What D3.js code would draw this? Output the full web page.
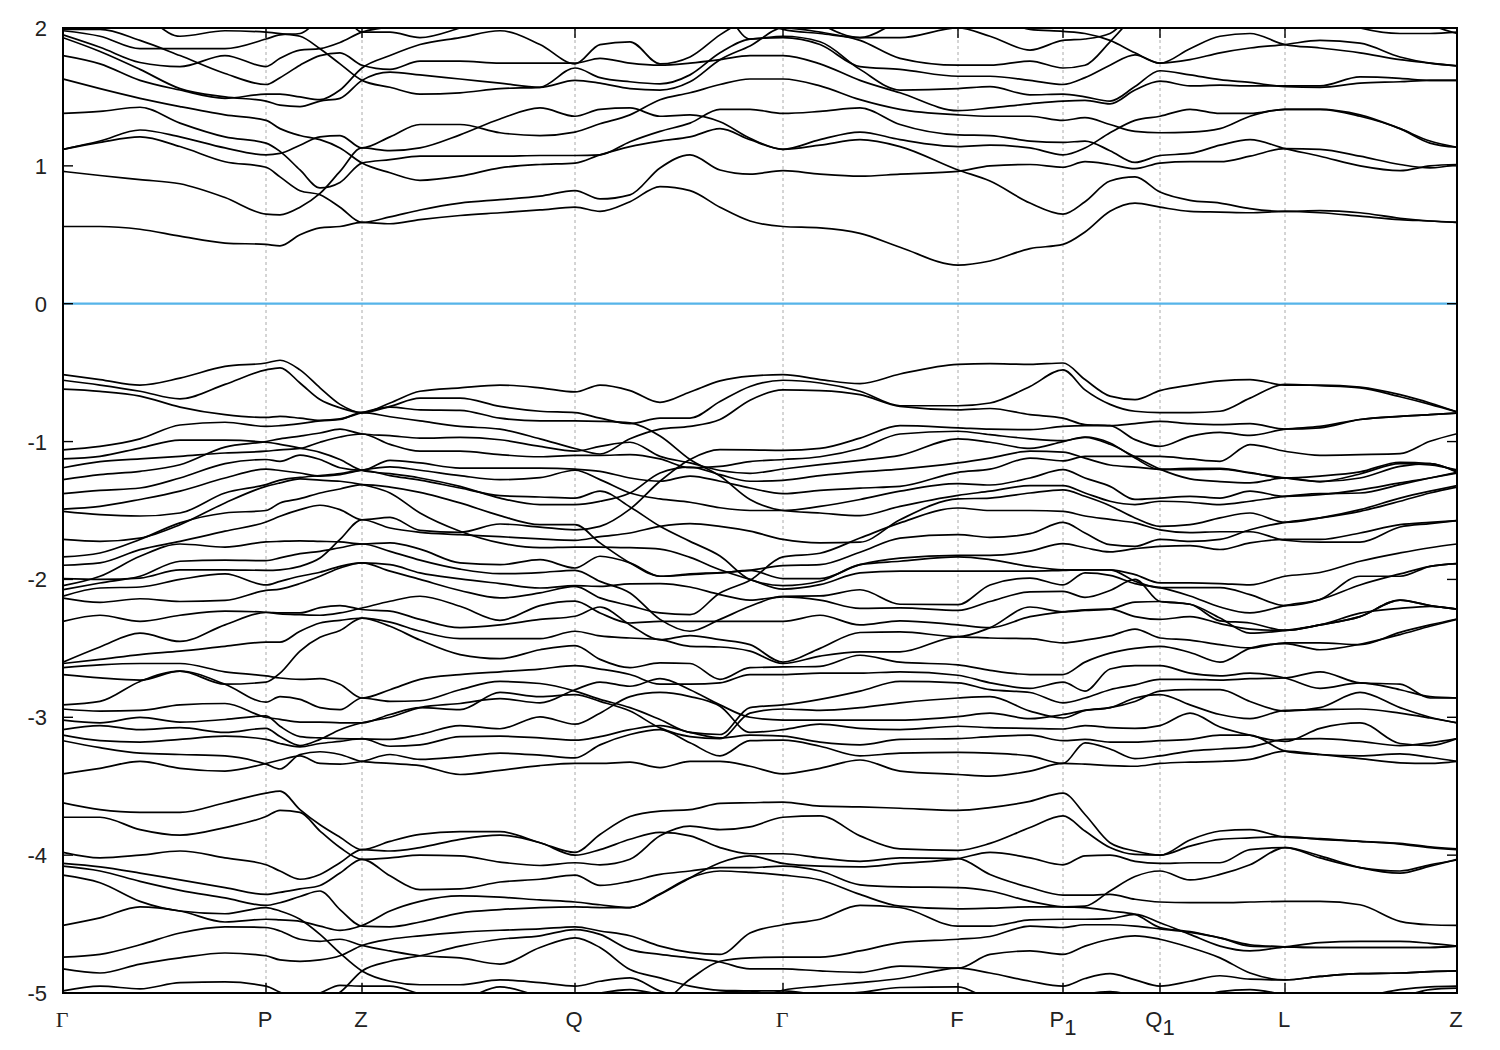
<!DOCTYPE html>
<html><head><meta charset="utf-8">
<script src="https://cdn.jsdelivr.net/npm/d3@7"></script>
<style>html,body{margin:0;padding:0;background:#fff}svg{display:block}text{font-family:"Liberation Sans",Arial,sans-serif;fill:#222}</style>
</head><body><svg id="c" width="1500" height="1050"></svg>
<script>
const kPath=[0,37,77,117,162,203, 217,237,257,277,299, 327,357,397,437,477,512, 537,567,597,627,657,687,720, 757,797,837,895, 927,967,1000, 1022,1047,1072,1097, 1127,1157,1187,1222, 1257,1297,1337,1367,1394];
const kTickPos=[0,203,299,512,720,895,1000,1097,1222,1394];
const kTickLabels=["Γ","P","Z","Q","Γ","F","P1","Q1","L","Z"];
const energyTicks=[2,1,0,-1,-2,-3,-4,-5];
const upperBands=[
[.56,.56,.54,.49,.44,.43,.42,.50,.55,.56,.59,.58,.61,.64,.66,.68,.70,.67,.74,.85,.82,.70,.60,.56,.55,.51,.41,.28,.31,.40,.43,.52,.67,.73,.70,.67,.665,.66,.67,.66,.635,.61,.60,.59],
[.96,.93,.90,.87,.77,.65,.645,.70,.80,.96,1.13,1.11,1.13,1.225,1.34,1.42,1.36,1.41,1.42,1.36,1.37,1.32,1.20,1.12,1.15,1.19,1.14,.97,.89,.73,.65,.74,.89,.92,.81,.75,.73,.69,.67,.675,.66,.62,.60,.59],
[1.12,1.17,1.21,1.14,1.03,.99,.92,.82,.79,.70,.59,.63,.68,.73,.755,.78,.82,.76,.79,.985,1.08,.97,.94,.965,.94,.925,.94,.96,1.0,1.01,.99,1.03,1.01,.98,1.02,1.03,1.03,1.07,1.125,1.12,1.07,1.01,.985,1.01],
[1.12,1.18,1.26,1.21,1.13,1.08,1.09,1.15,1.21,1.22,1.13,1.21,1.30,1.30,1.24,1.22,1.245,1.305,1.37,1.48,1.53,1.59,1.63,1.63,1.58,1.48,1.41,1.37,1.36,1.36,1.33,1.35,1.30,1.25,1.24,1.245,1.27,1.36,1.41,1.41,1.36,1.27,1.165,1.135],
[1.63,1.56,1.49,1.43,1.37,1.33,1.27,1.22,1.19,1.13,1.02,.95,.895,.925,.985,1.01,1.02,1.08,1.14,1.18,1.21,1.27,1.19,1.12,1.19,1.245,1.19,1.14,1.15,1.13,1.08,1.13,1.24,1.33,1.36,1.41,1.38,1.38,1.41,1.41,1.37,1.27,1.18,1.135],
[1.38,1.395,1.425,1.31,1.21,1.165,1.105,.97,.84,.88,1.02,1.045,1.07,1.07,1.07,1.075,1.075,1.08,1.175,1.25,1.31,1.41,1.41,1.38,1.395,1.42,1.30,1.225,1.22,1.18,1.17,1.18,1.11,1.025,1.075,1.09,1.15,1.19,1.125,1.07,1.0,.965,1.0,1.01],
[1.80,1.74,1.62,1.55,1.49,1.52,1.52,1.50,1.48,1.55,1.71,1.80,1.88,1.93,1.98,1.88,1.74,1.88,1.90,1.74,1.79,1.95,2.08,2.2,2.03,1.93,1.93,2.0,1.94,1.84,1.91,1.92,1.96,2.12,2.2,2.2,2.2,2.2,2.2,2.1,2.0,1.96,1.96,1.97],
[1.93,1.83,1.70,1.56,1.50,1.47,1.44,1.43,1.47,1.49,1.62,1.68,1.66,1.63,1.60,1.57,1.62,1.60,1.56,1.55,1.61,1.77,1.87,2.0,1.97,1.91,1.78,1.73,1.73,1.76,1.71,1.73,1.90,2.1,2.3,2.3,2.3,2.3,2.3,2.3,2.3,2.1,2.02,1.96],
[1.95,1.86,1.75,1.72,1.80,1.72,1.78,1.84,1.85,1.895,1.97,2.01,2.05,2.2,2.2,2.2,2.2,2.2,2.2,2.2,2.2,2.15,1.92,1.94,1.90,1.70,1.55,1.56,1.575,1.515,1.52,1.50,1.47,1.575,1.69,1.66,1.625,1.605,1.575,1.57,1.60,1.61,1.62,1.62],
[1.98,1.94,1.85,1.85,1.85,1.92,1.95,1.96,2.06,2.1,1.97,1.97,1.93,2.0,2.1,2.2,2.3,2.3,2.3,2.3,2.3,2.2,2.1,1.99,1.96,1.93,2.05,2.15,2.1,1.99,1.975,1.96,1.91,1.82,1.745,1.85,1.94,1.96,1.88,1.855,1.82,1.77,1.745,1.725],
[1.99,1.99,1.91,1.80,1.67,1.59,1.64,1.73,1.80,1.82,1.73,1.70,1.76,1.76,1.745,1.745,1.745,1.78,1.745,1.73,1.745,1.77,1.80,1.80,1.74,1.62,1.53,1.40,1.42,1.45,1.47,1.475,1.45,1.55,1.615,1.58,1.585,1.58,1.58,1.58,1.645,1.635,1.62,1.62],
[2.15,2.15,2.1,1.94,1.98,1.97,1.96,1.94,1.85,1.74,1.62,1.57,1.52,1.53,1.56,1.57,1.71,1.64,1.61,1.595,1.66,1.82,1.92,1.93,1.88,1.72,1.70,1.65,1.65,1.62,1.59,1.64,1.73,1.805,1.745,1.77,1.82,1.855,1.88,1.91,1.89,1.79,1.745,1.725]
];
const valenceBands=[
[-.515,-.55,-.59,-.54,-.455,-.43,-.41,-.48,-.61,-.73,-.79,-.72,-.635,-.61,-.59,-.61,-.64,-.59,-.63,-.715,-.64,-.56,-.525,-.515,-.55,-.58,-.51,-.44,-.435,-.44,-.43,-.55,-.67,-.695,-.63,-.59,-.56,-.55,-.59,-.59,-.605,-.66,-.72,-.785],
[-.555,-.59,-.635,-.69,-.585,-.48,-.465,-.575,-.695,-.755,-.79,-.745,-.685,-.685,-.745,-.78,-.79,-.83,-.87,-.83,-.83,-.71,-.60,-.555,-.575,-.635,-.74,-.74,-.72,-.60,-.48,-.625,-.73,-.78,-.79,-.79,-.78,-.685,-.585,-.595,-.61,-.675,-.73,-.785],
[-.62,-.636,-.67,-.75,-.805,-.825,-.817,-.83,-.846,-.836,-.79,-.75,-.77,-.773,-.83,-.85,-.85,-.853,-.865,-.96,-1.13,-1.25,-1.42,-1.5,-1.518,-1.537,-1.47,-1.39,-1.36,-1.32,-1.32,-1.373,-1.433,-1.457,-1.433,-1.44,-1.457,-1.433,-1.397,-1.378,-1.373,-1.312,-1.264,-1.223],
[-1.06,-1.035,-.98,-.88,-.86,-.89,-.885,-.87,-.85,-.84,-.79,-.82,-.85,-.89,-.91,-.98,-1.05,-1.09,-.98,-.91,-.89,-.84,-.70,-.625,-.63,-.66,-.745,-.77,-.76,-.805,-.83,-.877,-.885,-.986,-1.035,-.962,-.933,-.955,-.91,-.89,-.84,-.817,-.805,-.793],
[-1.125,-1.107,-1.047,-.99,-.99,-1.005,-1.02,-1.047,-1.078,-1.13,-1.21,-1.233,-1.264,-1.325,-1.41,-1.457,-1.457,-1.433,-1.373,-1.228,-1.185,-1.24,-1.288,-1.281,-1.247,-1.22,-1.2,-1.155,-1.12,-1.07,-1.076,-1.12,-1.17,-1.185,-1.2,-1.195,-1.195,-1.225,-1.264,-1.25,-1.22,-1.15,-1.16,-1.216],
[-1.19,-1.145,-1.126,-1.107,-1.083,-1.07,-1.06,-1.05,-1.005,-.967,-.945,-1.02,-1.07,-1.07,-1.095,-1.11,-1.10,-1.10,-1.095,-1.126,-1.19,-1.18,-1.145,-1.13,-1.11,-1.05,-.945,-.925,-.95,-.98,-.993,-.97,-1.02,-1.11,-1.2,-1.27,-1.29,-1.3,-1.264,-1.29,-1.235,-1.16,-1.17,-1.206],
[-1.276,-1.24,-1.216,-1.168,-1.04,-1.0,-.98,-.96,-.938,-.91,-.945,-.957,-.975,-.97,-.987,-1.035,-1.07,-1.035,-1.005,-1.107,-1.155,-1.21,-1.23,-1.199,-1.167,-1.136,-1.10,-.98,-1.005,-1.05,-1.0,-.967,-1.01,-1.12,-1.204,-1.204,-1.2,-1.228,-1.264,-1.29,-1.264,-1.18,-1.16,-1.223],
[-1.378,-1.354,-1.337,-1.264,-1.16,-1.13,-1.143,-1.098,-1.13,-1.19,-1.208,-1.136,-1.155,-1.192,-1.192,-1.192,-1.2,-1.216,-1.264,-1.288,-1.25,-1.288,-1.337,-1.378,-1.354,-1.337,-1.325,-1.223,-1.2,-1.12,-1.14,-1.107,-1.107,-1.107,-1.107,-1.126,-1.143,-1.022,-1.07,-1.10,-1.095,-1.088,-.998,-.943],
[-1.49,-1.47,-1.42,-1.36,-1.264,-1.2,-1.21,-1.228,-1.25,-1.24,-1.208,-1.184,-1.208,-1.247,-1.276,-1.262,-1.208,-1.276,-1.373,-1.416,-1.44,-1.48,-1.5,-1.5,-1.47,-1.42,-1.36,-1.305,-1.315,-1.264,-1.204,-1.264,-1.325,-1.42,-1.41,-1.397,-1.41,-1.36,-1.397,-1.385,-1.35,-1.30,-1.264,-1.228],
[-1.506,-1.53,-1.54,-1.518,-1.373,-1.312,-1.28,-1.26,-1.247,-1.233,-1.208,-1.247,-1.28,-1.337,-1.392,-1.402,-1.41,-1.36,-1.474,-1.615,-1.724,-1.83,-2.0,-2.045,-2.013,-1.893,-1.868,-1.837,-1.856,-1.905,-1.93,-1.93,-1.93,-1.965,-2.025,-2.025,-2.03,-2.04,-1.977,-1.95,-1.868,-1.808,-1.77,-1.743],
[-1.71,-1.724,-1.7,-1.603,-1.445,-1.325,-1.3,-1.27,-1.28,-1.288,-1.312,-1.373,-1.518,-1.65,-1.735,-1.77,-1.765,-1.765,-1.77,-1.78,-1.84,-1.93,-2.0,-2.07,-2.038,-1.953,-1.94,-1.94,-1.94,-1.94,-1.934,-1.93,-1.93,-2.013,-2.06,-2.06,-2.06,-2.11,-2.19,-2.146,-1.977,-1.977,-1.905,-1.885],
[-1.837,-1.808,-1.71,-1.59,-1.518,-1.5,-1.445,-1.414,-1.373,-1.344,-1.312,-1.33,-1.368,-1.445,-1.537,-1.603,-1.603,-1.735,-1.88,-1.977,-1.965,-1.953,-1.935,-1.994,-1.994,-1.893,-1.845,-1.825,-1.825,-1.795,-1.74,-1.77,-1.8,-1.777,-1.76,-1.755,-1.783,-1.735,-1.71,-1.71,-1.663,-1.603,-1.586,-1.574],
[-1.897,-1.88,-1.784,-1.724,-1.65,-1.583,-1.542,-1.494,-1.462,-1.494,-1.567,-1.55,-1.644,-1.658,-1.598,-1.62,-1.64,-1.615,-1.49,-1.288,-1.13,-1.059,-1.06,-1.064,-1.05,-.975,-.885,-.90,-.91,-.914,-.89,-.885,-.885,-.87,-.853,-.87,-.877,-.87,-.91,-.90,-.84,-.817,-.805,-.793],
[-1.994,-2.0,-1.99,-1.93,-1.93,-1.934,-1.93,-1.905,-1.845,-1.71,-1.567,-1.627,-1.658,-1.675,-1.69,-1.706,-1.716,-1.69,-1.663,-1.615,-1.595,-1.615,-1.65,-1.71,-1.735,-1.73,-1.567,-1.416,-1.41,-1.373,-1.35,-1.397,-1.465,-1.554,-1.615,-1.603,-1.554,-1.518,-1.586,-1.554,-1.494,-1.41,-1.36,-1.32],
[-2.045,-1.977,-1.832,-1.743,-1.765,-1.728,-1.724,-1.72,-1.724,-1.728,-1.743,-1.735,-1.78,-1.88,-1.893,-1.857,-1.917,-1.832,-1.88,-1.977,-1.96,-1.95,-1.934,-1.9,-1.893,-1.803,-1.70,-1.675,-1.695,-1.668,-1.586,-1.663,-1.748,-1.76,-1.71,-1.724,-1.71,-1.64,-1.586,-1.554,-1.506,-1.433,-1.373,-1.33],
[-2.075,-2.026,-1.977,-1.868,-1.86,-1.864,-1.844,-1.813,-1.796,-1.77,-1.743,-1.796,-1.86,-1.925,-1.958,-1.95,-1.934,-2.014,-2.098,-2.29,-2.376,-2.29,-2.195,-2.122,-2.12,-2.075,-2.18,-2.183,-2.04,-1.99,-2.04,-1.953,-1.97,-2.03,-2.06,-2.12,-2.2,-2.243,-2.19,-2.146,-2.04,-1.96,-1.905,-1.885],
[-2.122,-2.062,-2.055,-2.0,-1.96,-2.04,-2.014,-1.977,-1.948,-1.905,-1.88,-1.94,-2.0,-2.08,-2.134,-2.098,-2.05,-2.134,-2.19,-2.243,-2.255,-2.098,-2.006,-1.837,-1.81,-1.7,-1.59,-1.482,-1.5,-1.5,-1.506,-1.54,-1.565,-1.59,-1.64,-1.66,-1.654,-1.654,-1.716,-1.73,-1.73,-1.62,-1.595,-1.574],
[-2.135,-2.166,-2.14,-2.16,-2.152,-2.08,-2.07,-2.03,-1.977,-1.917,-1.88,-1.893,-1.953,-1.996,-2.03,-2.062,-2.045,-2.05,-2.032,-2.03,-2.055,-2.11,-2.15,-2.127,-2.15,-2.21,-2.207,-2.225,-2.16,-2.09,-2.087,-2.13,-2.08,-2.0,-2.16,-2.18,-2.28,-2.39,-2.37,-2.33,-2.245,-2.21,-2.195,-2.215],
[-2.304,-2.26,-2.304,-2.26,-2.23,-2.238,-2.25,-2.256,-2.26,-2.243,-2.207,-2.158,-2.122,-2.195,-2.297,-2.19,-2.158,-2.243,-2.316,-2.304,-2.304,-2.304,-2.304,-2.304,-2.26,-2.33,-2.3,-2.33,-2.35,-2.27,-2.235,-2.22,-2.215,-2.27,-2.29,-2.27,-2.32,-2.36,-2.37,-2.33,-2.27,-2.15,-2.19,-2.215],
[-2.60,-2.49,-2.39,-2.45,-2.33,-2.24,-2.243,-2.243,-2.205,-2.19,-2.218,-2.23,-2.29,-2.35,-2.33,-2.29,-2.267,-2.2,-2.33,-2.437,-2.407,-2.437,-2.473,-2.6,-2.5,-2.385,-2.38,-2.415,-2.35,-2.2,-2.235,-2.225,-2.215,-2.165,-2.16,-2.18,-2.3,-2.316,-2.37,-2.33,-2.27,-2.15,-2.19,-2.215],
[-2.61,-2.58,-2.545,-2.52,-2.485,-2.455,-2.455,-2.376,-2.316,-2.297,-2.28,-2.31,-2.376,-2.43,-2.43,-2.43,-2.376,-2.41,-2.425,-2.437,-2.485,-2.49,-2.52,-2.61,-2.556,-2.525,-2.525,-2.416,-2.425,-2.43,-2.46,-2.44,-2.41,-2.36,-2.425,-2.44,-2.473,-2.497,-2.46,-2.46,-2.473,-2.384,-2.33,-2.287],
[-2.69,-2.714,-2.73,-2.665,-2.76,-2.745,-2.68,-2.52,-2.42,-2.37,-2.28,-2.34,-2.44,-2.545,-2.575,-2.51,-2.48,-2.58,-2.64,-2.605,-2.61,-2.725,-2.64,-2.635,-2.63,-2.55,-2.6,-2.62,-2.66,-2.69,-2.69,-2.6,-2.535,-2.5,-2.485,-2.53,-2.6,-2.5,-2.465,-2.51,-2.47,-2.40,-2.34,-2.29]
];
const lowerMidBands=[
[-2.64,-2.62,-2.61,-2.61,-2.67,-2.70,-2.715,-2.725,-2.72,-2.76,-2.86,-2.8,-2.725,-2.69,-2.67,-2.65,-2.625,-2.65,-2.69,-2.76,-2.76,-2.75,-2.69,-2.69,-2.68,-2.68,-2.67,-2.695,-2.75,-2.79,-2.745,-2.81,-2.65,-2.625,-2.625,-2.68,-2.7,-2.68,-2.715,-2.79,-2.75,-2.8,-2.85,-2.86],
[-2.91,-2.885,-2.74,-2.665,-2.76,-2.89,-2.85,-2.87,-2.93,-2.945,-2.86,-2.885,-2.88,-2.8,-2.74,-2.755,-2.81,-2.87,-2.93,-3.016,-3.11,-3.125,-2.93,-2.91,-2.87,-2.81,-2.74,-2.75,-2.8,-2.82,-2.895,-2.86,-2.8,-2.765,-2.725,-2.725,-2.73,-2.72,-2.715,-2.67,-2.75,-2.76,-2.86,-2.86],
[-2.94,-2.955,-2.95,-2.91,-2.9,-3.0,-3.015,-3.035,-3.035,-3.04,-3.04,-2.98,-2.93,-2.945,-2.82,-2.85,-2.835,-2.885,-2.955,-3.077,-3.14,-3.155,-2.97,-2.94,-2.95,-2.93,-2.895,-2.86,-2.85,-2.955,-3.005,-2.95,-2.93,-2.885,-2.81,-2.8,-2.8,-2.885,-2.955,-2.93,-2.82,-2.93,-3.0,-3.04],
[-3.09,-3.06,-3.09,-3.075,-3.11,-3.08,-3.14,-3.205,-3.16,-3.09,-3.04,-3.0,-2.93,-2.9,-2.865,-2.895,-2.8,-2.745,-2.775,-2.72,-2.8,-2.91,-3.0,-3.02,-3.02,-3.02,-3.02,-2.995,-2.97,-3.01,-2.98,-2.95,-2.93,-2.86,-2.835,-2.91,-2.98,-3.01,-2.95,-2.945,-2.94,-2.97,-3.005,-3.04],
[-3.02,-3.04,-3.0,-3.035,-3.016,-2.99,-3.065,-3.14,-3.15,-3.155,-3.157,-3.16,-3.125,-3.06,-3.083,-2.997,-3.05,-2.97,-2.85,-2.82,-2.85,-2.92,-3.11,-3.09,-3.05,-3.08,-3.09,-3.065,-3.075,-3.08,-3.085,-3.06,-3.075,-3.08,-3.06,-2.97,-3.07,-3.13,-3.175,-3.08,-3.04,-3.19,-3.205,-3.155],
[-3.13,-3.17,-3.18,-3.16,-3.137,-3.16,-3.19,-3.215,-3.19,-3.175,-3.155,-3.21,-3.2,-3.14,-3.137,-3.15,-3.166,-3.14,-3.09,-3.06,-3.11,-3.15,-3.13,-3.137,-3.18,-3.2,-3.16,-3.155,-3.14,-3.13,-3.17,-3.16,-3.18,-3.18,-3.17,-3.16,-3.13,-3.13,-3.245,-3.27,-3.28,-3.265,-3.29,-3.32],
[-3.17,-3.22,-3.26,-3.27,-3.28,-3.34,-3.375,-3.27,-3.25,-3.27,-3.32,-3.335,-3.35,-3.415,-3.385,-3.35,-3.335,-3.335,-3.325,-3.365,-3.32,-3.32,-3.355,-3.41,-3.37,-3.31,-3.39,-3.415,-3.427,-3.39,-3.335,-3.34,-3.35,-3.355,-3.335,-3.325,-3.32,-3.305,-3.245,-3.27,-3.3,-3.33,-3.335,-3.32],
[-3.41,-3.37,-3.32,-3.37,-3.39,-3.335,-3.31,-3.28,-3.335,-3.34,-3.32,-3.27,-3.306,-3.287,-3.26,-3.275,-3.295,-3.2,-3.125,-3.09,-3.185,-3.28,-3.17,-3.166,-3.21,-3.28,-3.26,-3.255,-3.26,-3.28,-3.335,-3.185,-3.23,-3.3,-3.28,-3.245,-3.23,-3.215,-3.16,-3.155,-3.175,-3.205,-3.185,-3.155]
];
const deepBands=[
[-3.62,-3.67,-3.69,-3.69,-3.62,-3.55,-3.535,-3.67,-3.78,-3.87,-3.96,-3.90,-3.85,-3.83,-3.83,-3.91,-3.98,-3.85,-3.72,-3.68,-3.67,-3.625,-3.62,-3.615,-3.645,-3.65,-3.66,-3.675,-3.655,-3.61,-3.55,-3.705,-3.91,-3.97,-4.0,-3.89,-3.825,-3.815,-3.87,-3.88,-3.9,-3.915,-3.94,-3.955],
[-3.725,-3.725,-3.815,-3.855,-3.80,-3.72,-3.675,-3.69,-3.825,-3.945,-4.03,-4.02,-4.0,-4.005,-4.05,-4.075,-4.055,-4.07,-4.03,-3.86,-3.79,-3.815,-3.795,-3.725,-3.715,-3.86,-3.955,-3.965,-3.915,-3.80,-3.715,-3.825,-3.945,-3.995,-4.0,-3.935,-3.885,-3.875,-3.865,-3.885,-3.90,-3.92,-3.945,-3.96],
[-3.98,-4.02,-4.0,-3.97,-4.02,-4.07,-4.115,-4.175,-4.14,-4.055,-3.96,-3.97,-3.945,-3.885,-3.855,-3.91,-4.0,-3.96,-3.885,-3.835,-3.86,-3.945,-3.99,-3.99,-4.02,-4.045,-4.02,-4.025,-4.14,-4.235,-4.29,-4.29,-4.285,-4.32,-4.34,-4.345,-4.345,-4.34,-4.335,-4.335,-4.36,-4.48,-4.505,-4.51],
[-4.06,-4.085,-4.13,-4.18,-4.235,-4.285,-4.27,-4.245,-4.22,-4.13,-4.03,-4.15,-4.25,-4.245,-4.195,-4.175,-4.145,-4.22,-4.19,-4.14,-4.115,-4.09,-4.09,-4.08,-4.115,-4.215,-4.23,-4.235,-4.26,-4.335,-4.375,-4.38,-4.405,-4.43,-4.525,-4.555,-4.6,-4.65,-4.665,-4.67,-4.67,-4.67,-4.67,-4.66],
[-4.08,-4.115,-4.19,-4.255,-4.31,-4.365,-4.345,-4.3,-4.26,-4.395,-4.515,-4.52,-4.485,-4.42,-4.395,-4.38,-4.375,-4.38,-4.38,-4.28,-4.165,-4.115,-4.125,-4.145,-4.18,-4.285,-4.37,-4.39,-4.385,-4.375,-4.375,-4.37,-4.26,-4.155,-4.115,-4.18,-4.14,-4.07,-3.945,-4.005,-4.09,-4.13,-4.08,-4.03],
[-4.145,-4.2,-4.335,-4.405,-4.425,-4.38,-4.405,-4.465,-4.575,-4.71,-4.84,-4.915,-4.94,-4.94,-4.905,-4.925,-4.95,-4.915,-4.89,-4.985,-5.035,-5.06,-5.05,-4.98,-4.95,-4.925,-4.895,-4.82,-4.855,-4.915,-4.95,-4.895,-4.86,-4.905,-4.95,-4.915,-4.875,-4.9,-4.905,-4.88,-4.86,-4.855,-4.845,-4.84],
[-4.51,-4.455,-4.375,-4.405,-4.485,-4.465,-4.47,-4.48,-4.515,-4.545,-4.51,-4.405,-4.335,-4.295,-4.305,-4.325,-4.34,-4.36,-4.38,-4.285,-4.165,-4.055,-4.005,-4.06,-4.08,-4.085,-4.06,-4.025,-3.98,-4.02,-4.07,-4.005,-4.0,-4.045,-4.06,-4.055,-4.055,-3.96,-3.945,-4.02,-4.09,-4.115,-4.07,-4.035],
[-4.74,-4.72,-4.65,-4.565,-4.52,-4.525,-4.55,-4.61,-4.625,-4.61,-4.655,-4.695,-4.73,-4.745,-4.79,-4.67,-4.6,-4.67,-4.83,-4.89,-4.95,-4.98,-4.985,-5.04,-5.06,-5.06,-5.06,-5.05,-5.05,-5.05,-5.05,-5.01,-4.99,-5.02,-5.05,-5.05,-4.99,-4.975,-5.01,-5.035,-5.025,-4.975,-4.955,-4.95],
[-4.825,-4.855,-4.79,-4.745,-4.71,-4.73,-4.76,-4.77,-4.76,-4.73,-4.655,-4.61,-4.585,-4.56,-4.545,-4.535,-4.52,-4.55,-4.585,-4.66,-4.705,-4.72,-4.565,-4.505,-4.465,-4.365,-4.38,-4.515,-4.515,-4.47,-4.465,-4.465,-4.46,-4.43,-4.49,-4.575,-4.66,-4.695,-4.665,-4.635,-4.625,-4.625,-4.64,-4.66],
[-4.985,-4.95,-4.97,-4.925,-4.92,-4.95,-4.995,-5.035,-5.0,-4.945,-4.95,-4.95,-5.005,-5.04,-4.955,-5.02,-5.04,-5.0,-4.975,-5.01,-5.025,-4.995,-4.985,-4.985,-5.01,-4.995,-4.96,-4.955,-5.04,-5.06,-5.06,-5.06,-5.06,-5.06,-5.06,-5.06,-5.06,-5.06,-5.06,-5.06,-5.06,-5.03,-4.975,-4.965],
[-5.06,-5.06,-5.06,-5.06,-5.06,-5.06,-5.06,-5.06,-5.06,-4.995,-4.84,-4.77,-4.73,-4.66,-4.61,-4.585,-4.54,-4.575,-4.685,-4.72,-4.745,-4.775,-4.825,-4.825,-4.84,-4.85,-4.805,-4.82,-4.72,-4.695,-4.72,-4.66,-4.61,-4.585,-4.61,-4.67,-4.745,-4.855,-4.905,-4.88,-4.86,-4.855,-4.845,-4.84],
[-5.06,-5.06,-5.06,-5.06,-5.06,-5.06,-5.06,-5.06,-5.06,-5.06,-5.06,-5.06,-5.06,-5.06,-5.06,-5.06,-5.06,-5.06,-5.06,-5.06,-4.9,-4.77,-4.745,-4.74,-4.74,-4.695,-4.635,-4.61,-4.59,-4.515,-4.525,-4.505,-4.505,-4.515,-4.535,-4.56,-4.6,-4.66,-4.665,-4.67,-4.67,-4.67,-4.67,-4.66]
];

const allBands=[...upperBands,...valenceBands,...lowerMidBands,...deepBands];
const x=d3.scaleLinear().domain([0,1394]).range([63,1457]);
const y=d3.scaleLinear().domain([-5,2]).range([993,28]);
const svg=d3.select("#c");
svg.append("defs").append("clipPath").attr("id","plot").append("rect")
  .attr("x",63).attr("y",28).attr("width",1394).attr("height",965);
svg.append("g").selectAll("line").data(kTickPos.slice(1,-1)).join("line")
  .attr("x1",d=>x(d)).attr("x2",d=>x(d)).attr("y1",28).attr("y2",993)
  .attr("stroke","#aaa").attr("stroke-width",1).attr("stroke-dasharray","3,3");
svg.append("line").attr("x1",63).attr("x2",1457).attr("y1",y(0)).attr("y2",y(0))
  .attr("stroke","#56b4e9").attr("stroke-width",2.2);
const line=d3.line().x((d,i)=>x(kPath[i])).y(d=>y(d)).curve(d3.curveMonotoneX);
svg.append("g").attr("clip-path","url(#plot)").selectAll("path").data(allBands).join("path")
  .attr("d",line).attr("fill","none").attr("stroke","#000").attr("stroke-width",1.7);
const tg=svg.append("g").attr("stroke","#000").attr("stroke-width",1.4);
energyTicks.forEach(v=>{
  tg.append("line").attr("x1",63).attr("x2",73).attr("y1",y(v)).attr("y2",y(v));
  tg.append("line").attr("x1",1447).attr("x2",1457).attr("y1",y(v)).attr("y2",y(v));
});
kTickPos.slice(1,-1).forEach(k=>{
  tg.append("line").attr("x1",x(k)).attr("x2",x(k)).attr("y1",28).attr("y2",38);
  tg.append("line").attr("x1",x(k)).attr("x2",x(k)).attr("y1",983).attr("y2",993);
});
svg.append("rect").attr("x",63).attr("y",28).attr("width",1394).attr("height",965)
  .attr("fill","none").attr("stroke","#000").attr("stroke-width",2);
svg.append("g").selectAll("text").data(energyTicks).join("text")
  .attr("x",47).attr("y",d=>y(d)+8).attr("text-anchor","end").attr("font-size",22).text(d=>d);
kTickLabels.forEach((t,i)=>{
  const tx=x(kTickPos[i])-1;
  const el=svg.append("text").attr("x",tx).attr("y",1027).attr("text-anchor","middle").attr("font-size",22);
  if(t==="Γ"){el.style("font-family","'Liberation Serif',serif").text(t);}
  else if(t.length==2){
    el.append("tspan").text(t[0]);
    el.append("tspan").attr("dy",8).text(t[1]);
    el.attr("x",tx+1);
  } else el.text(t);
});
</script></body></html>
